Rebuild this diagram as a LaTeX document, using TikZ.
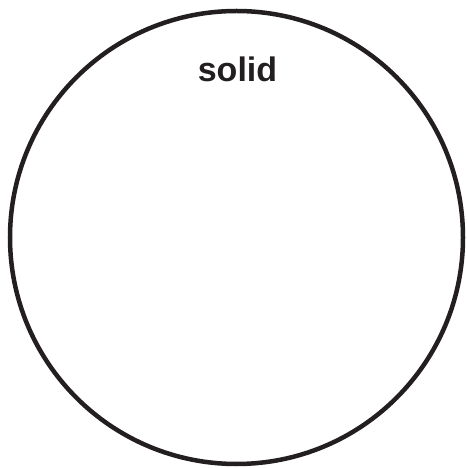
\documentclass[tikz,border=0pt]{standalone}
\usepackage{fontspec}
\setmainfont{Liberation Sans}
\usepackage{tikz}
\usetikzlibrary{positioning}
\definecolor{ink}{HTML}{231F20}

\begin{document}
\begin{tikzpicture}[x=1pt,y=1pt,ring/.style={draw=ink,circle,line width=4.5pt,minimum size=453pt,inner sep=0pt},lbl/.style={text=ink,font=\fontsize{34}{40}\selectfont\bfseries,inner sep=0pt,anchor=base}]
\useasboundingbox (0,0) rectangle (466,468);
\node[ring] (ball) at (236.5,230.5) {};
\node[lbl] (state) at ([xshift=1pt,yshift=-73pt]ball.north) {solid};
\end{tikzpicture}
\end{document}
